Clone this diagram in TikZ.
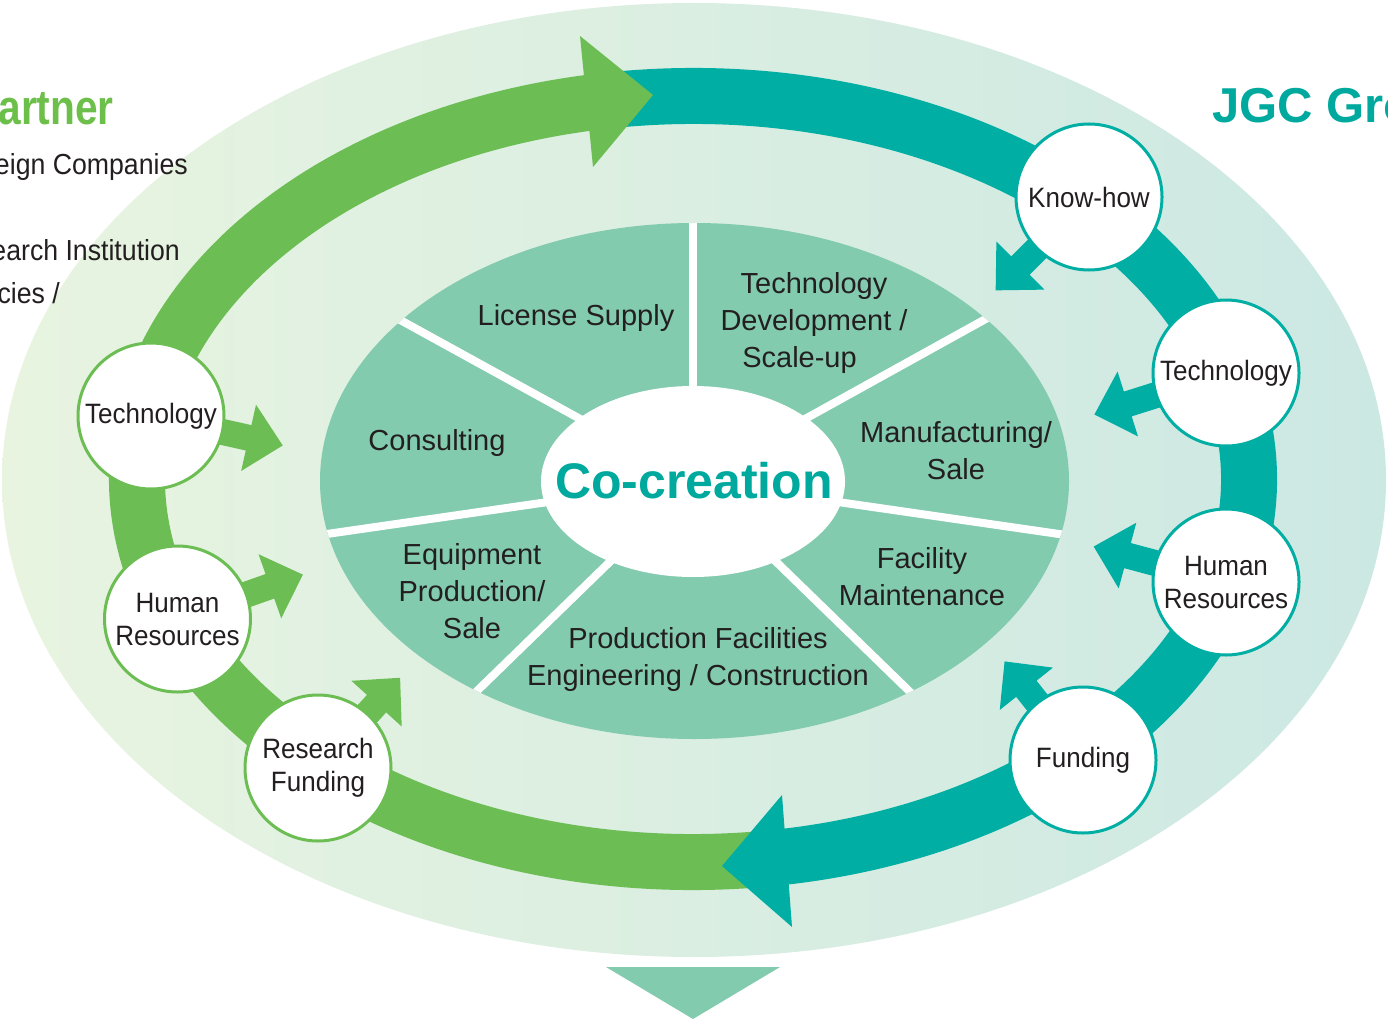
\documentclass[tikz,border=0pt]{standalone}
\usepackage{fontspec}
\setmainfont{Liberation Sans}
\newfontfamily\circf[FakeStretch=0.93]{Liberation Sans}
\newfontfamily\sidef[FakeStretch=0.92]{Liberation Sans}
\newfontfamily\titlef[FakeStretch=0.83]{Liberation Sans}
\usetikzlibrary{calc}
\definecolor{gband}{HTML}{6CBE54}
\definecolor{tband}{HTML}{00AEA3}
\definecolor{piec}{HTML}{82CBAE}
\definecolor{txt}{HTML}{231F20}
\definecolor{gtitle}{HTML}{6CC04A}
\definecolor{ttitle}{HTML}{00A99D}
\definecolor{bgleft}{HTML}{E8F4E0}
\definecolor{bgright}{HTML}{CCE8E3}

% small arrow: center, angle, head-base distance, tip distance, colour
\newcommand\sarrow[5]{%
  \fill[#5, shift={(#1)}, rotate=#2] (45pt,-13pt) -- (#3pt,-13pt) -- (#3pt,-34pt) -- (#4pt,0pt) -- (#3pt,34pt) -- (#3pt,13pt) -- (45pt,13pt) -- cycle;}

\begin{document}
\begin{tikzpicture}[x=1pt,y=-1pt,
  band/.style={line width=56pt},
  circbase/.style={circle, draw, line width=3pt, fill=white, minimum size=146pt, inner sep=0pt,
     align=center, text=txt, font=\circf\fontsize{28}{33}\selectfont},
  lcirc/.style={circbase, draw=gband},
  rcirc/.style={circbase, draw=tband},
  plabel/.style={align=center, inner sep=0pt, text=txt, font=\fontsize{29}{37}\selectfont},
  sidetext/.style={inner sep=0pt, anchor=base east, text=txt, font=\sidef\fontsize{29}{35}\selectfont}
]
\useasboundingbox (0,0) rectangle (1388,1024);
\clip (0,0) rectangle (1388,1024);

% outer field
\shade[left color=bgleft, right color=bgright] (694,480) ellipse [x radius=692pt, y radius=477pt];

% bottom triangle
\fill[piec] (606,967) -- (780,967) -- (693,1019) -- cycle;

% titles and side texts
\node[inner sep=0pt, anchor=base east, text=gtitle, font=\titlef\bfseries\fontsize{49}{55}\selectfont] (ptitle) at (114,125) {artner};
\node[inner sep=0pt, anchor=base west, text=ttitle, font=\bfseries\fontsize{49}{55}\selectfont] (jtitle) at (1212,123) {JGC Gro};
\node[sidetext] (s1) at (188,175) {eign Companies};
\node[sidetext] (s2) at (180,260) {earch Institution};
\node[sidetext] (s3) at (60,303) {cies /};

% pie
\coordinate (PC) at (693,481);
\fill[piec] (694.5,481) ellipse [x radius=374.5pt, y radius=258pt];
\begin{scope}
  \clip (694.5,481) ellipse [x radius=374.5pt, y radius=258pt];
  \foreach \x/\y in {693/223, 402/321, 982/321, 327/534, 1059/534, 479/689, 907/689}
    \draw[white, line width=8pt] (PC) -- ($(PC)!1.4!(\x,\y)$);
\end{scope}
\fill[white] (693,481.5) ellipse [x radius=152pt, y radius=95.5pt];

\node[inner sep=0pt, text=ttitle, font=\bfseries\fontsize{50}{55}\selectfont] (co) at (694,481) {Co-creation};
\node[plabel] (p1) at (576,318.5) {License Supply};
\node[plabel] (p2) at (814,323) {Technology\\Development /\\Scale-up\hspace*{29pt}};
\node[plabel] (p3) at (437,442.5) {Consulting};
\node[plabel] (p4) at (956,450.5) {Manufacturing/\\Sale};
\node[plabel] (p5) at (472,591.5) {Equipment\\Production/\\Sale};
\node[plabel] (p6) at (922,577) {Facility\\Maintenance};
\node[plabel] (p7) at (698,659.5) {Production Facilities\\Engineering / Construction};

% big arrows
\coordinate (E) at (693,479);
\draw[gband, band] ($(E)+(-83:556pt and 383pt)$) arc[start angle=-83, end angle=-260, x radius=556pt, y radius=383pt];
\draw[tband, band] ($(E)+(98:556pt and 383pt)$) arc[start angle=98, end angle=-81.5, x radius=556pt, y radius=383pt];
\fill[gband] (580,36) -- (653,95) -- (593,167) -- cycle;
\fill[tband] (782,795) -- (722,866) -- (792,927) -- cycle;

% circle centres
\coordinate (cLT) at (151,416);
\coordinate (cLH) at (177.5,619);
\coordinate (cLR) at (318,768);
\coordinate (cRK) at (1089,197);
\coordinate (cRT) at (1226,373);
\coordinate (cRH) at (1226,582);
\coordinate (cRF) at (1083,760);

% small arrows
\sarrow{cLT}{-12.6}{100}{135}{gband}
\sarrow{cLH}{19.5}{98}{133}{gband}
\sarrow{cLR}{47.7}{87}{122}{gband}
\sarrow{cRK}{-135}{97}{132}{tband}
\sarrow{cRT}{-162.5}{103}{138}{tband}
\sarrow{cRH}{165}{102}{137}{tband}
\sarrow{cRF}{128.5}{91}{126}{tband}

% circles
\node[lcirc] (lt) at (cLT) {Technology};
\node[lcirc] (lh) at (cLH) {Human\\Resources};
\node[lcirc] (lr) at (cLR) {Research\\Funding};
\node[rcirc] (rk) at (cRK) {Know-how};
\node[rcirc] (rt) at (cRT) {Technology};
\node[rcirc] (rh) at (cRH) {Human\\Resources};
\node[rcirc] (rf) at (cRF) {Funding};
\end{tikzpicture}
\end{document}
